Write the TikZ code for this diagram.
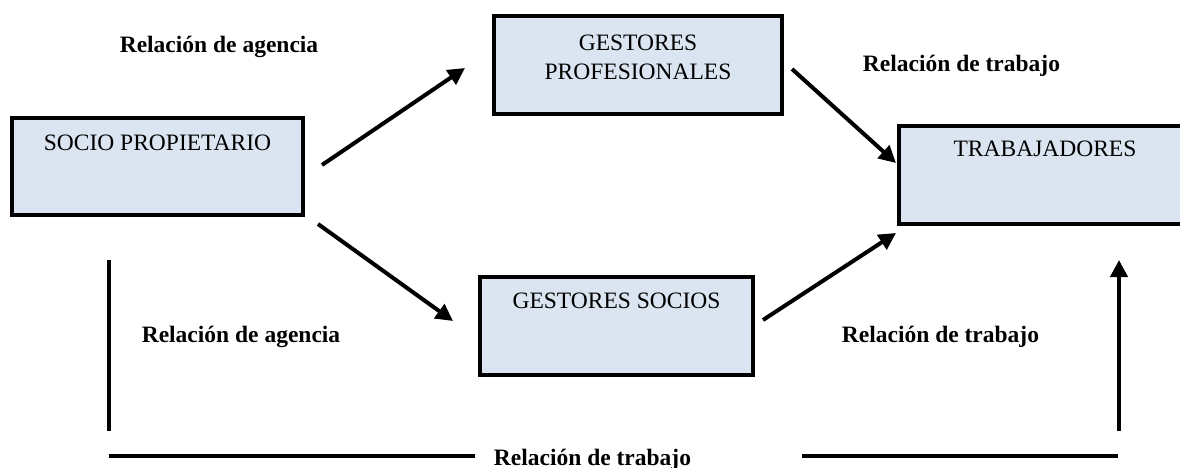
\documentclass[tikz,border=0pt]{standalone}
\usepackage{fontspec}
\setmainfont{Liberation Serif}
\usetikzlibrary{arrows.meta}
\definecolor{boxfill}{HTML}{DBE5F1}
\begin{document}
\begin{tikzpicture}[x=1pt,y=-1pt,
  box/.style={draw=black, line width=4pt, fill=boxfill, inner sep=0pt},
  boxtext/.style={font=\fontsize{23.5}{29}\selectfont, align=center, inner sep=0pt},
  lbl/.style={font=\fontsize{23.5}{28}\selectfont\bfseries, inner sep=0pt, anchor=base},
  conn/.style={line width=4pt},
  arr/.style={conn, -{Triangle[length=17pt,width=17pt]}}]
\clip (0,0) rectangle (1180,468);
\fill[white] (0,0) rectangle (1180,468);
% boxes
\node[box, minimum width=291pt, minimum height=97pt] (sp) at (157.5,166.5) {};
\node[box, minimum width=288pt, minimum height=98pt] (gp) at (638,65) {};
\node[box, minimum width=273pt, minimum height=98pt] (gs) at (616.5,326) {};
\node[box, minimum width=292pt, minimum height=98pt] (tr) at (1045,175) {};
% box texts
\node[boxtext, anchor=base] (sptext) at (157.5,150) {SOCIO PROPIETARIO};
\node[boxtext, anchor=north] (gptext) at (638,34.5) {GESTORES\\PROFESIONALES};
\node[boxtext, anchor=base] (gstext) at (616.5,308) {GESTORES SOCIOS};
\node[boxtext, anchor=base] (trtext) at (1045,157) {TRABAJADORES};
% labels
\node[lbl] (l1) at (219,53) {Relación de agencia};
\node[lbl] (l2) at (961.5,72) {Relación de trabajo};
\node[lbl] (l3) at (241,342) {Relación de agencia};
\node[lbl] (l4) at (940.5,342) {Relación de trabajo};
\node[lbl] (l5) at (592.5,465) {Relación de trabajo};
% connector end points
\coordinate (a1s) at (322,165);
\coordinate (a1e) at (465,68);
\coordinate (a2s) at (318,224);
\coordinate (a2e) at (453,321);
\coordinate (a3s) at (792,69);
\coordinate (a3e) at (896,163);
\coordinate (a4s) at (763,320);
\coordinate (a4e) at (896,233);
\coordinate (v1t) at (109,260);
\coordinate (v1b) at (109,431);
\coordinate (v2b) at (1119,431);
\coordinate (v2t) at (1119,260);
\coordinate (h1s) at (109,456);
\coordinate (h1e) at (475,456);
\coordinate (h2s) at (802,456);
\coordinate (h2e) at (1118,456);
% connectors
\draw[arr] (a1s) -- (a1e);
\draw[arr] (a2s) -- (a2e);
\draw[arr] (a3s) -- (a3e);
\draw[arr] (a4s) -- (a4e);
\draw[conn] (v1t) -- (v1b);
\draw[arr] (v2b) -- (v2t);
\draw[conn] (h1s) -- (h1e);
\draw[conn] (h2s) -- (h2e);
\end{tikzpicture}
\end{document}
